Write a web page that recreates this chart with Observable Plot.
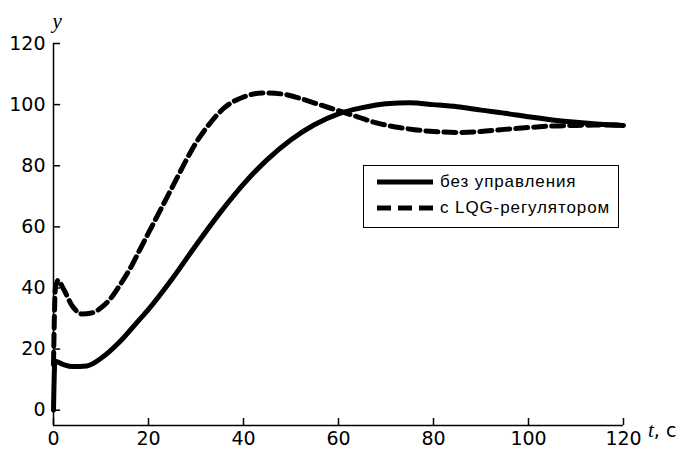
<!DOCTYPE html>
<html>
<head>
<meta charset="utf-8">
<script src="https://cdn.jsdelivr.net/npm/d3@7"></script>
<script src="https://cdn.jsdelivr.net/npm/@observablehq/plot@0.6"></script>
<style>
  html, body { margin: 0; padding: 0; background: #fff; }
  #wrap { position: relative; width: 684px; height: 454px; }
  #legend {
    position: absolute; left: 363px; top: 165px; width: 256px; height: 63px;
    border: 1px solid #000; box-sizing: border-box; background: #fff;
    font-family: "Liberation Sans", Arial, sans-serif; font-size: 17px; letter-spacing: 0.9px; color: #000;
  }
  #legend .row { position: absolute; left: 13px; display: flex; align-items: center; height: 20px; }
  #legend svg { margin-right: 7px; }
</style>
</head>
<body>
<div id="wrap"></div>
<script>
// --- data ---
const tSolid = [0, 0.3, 2, 4, 7, 10, 14, 18, 20, 25, 30, 35, 40, 45, 50, 55, 60, 65, 70, 75, 80, 85, 90, 95, 100, 105, 110, 115, 120];
const ySolid = [0, 16, 15, 14.3, 14.5, 17, 22.5, 29.5, 33, 43, 54, 64.5, 74, 82, 88.5, 93.5, 97, 99, 100.3, 100.6, 100, 99.3, 98.2, 97.2, 96, 95, 94.2, 93.6, 93.2];
const tDashed = [0, 0.4, 1, 2, 4, 6, 8, 10, 12, 14, 16, 18, 20, 22, 24, 26, 28, 30, 33, 36, 40, 44, 48, 52, 56, 60, 64, 68, 72, 76, 80, 85, 90, 95, 100, 105, 110, 115, 120];
const yDashed = [15, 40, 42.5, 40, 34, 31.5, 31.8, 33.5, 36.5, 41, 46, 52, 58, 64, 70, 76, 82, 87.5, 94, 99, 102.5, 103.8, 103.5, 102, 100, 98, 96, 94, 92.7, 91.8, 91.2, 90.9, 91.2, 91.9, 92.5, 93, 93.2, 93.3, 93.3];
const seriesNames = ["без управления", "с LQG-регулятором"];
const xTicks = [0, 20, 40, 60, 80, 100, 120];
const yTicks = [0, 20, 40, 60, 80, 100, 120];
const xLabel = "t";
const xUnit = ", с";
const yLabel = "y";

const solid = tSolid.map((t, i) => ({t, y: ySolid[i]}));
const dashed = tDashed.map((t, i) => ({t, y: yDashed[i]}));

const yMin = -5;
const plot = Plot.plot({
  width: 684,
  height: 454,
  marginLeft: 53,
  marginRight: 61,
  marginTop: 43,
  marginBottom: 29,
  x: {domain: [0, 120]},
  y: {domain: [yMin, 120]},
  style: {fontFamily: "DejaVu Sans, sans-serif", fontSize: "19px", color: "#000", background: "#fff"},
  marks: [
    Plot.ruleY([yMin], {x1: 0, x2: 120, stroke: "#000", strokeWidth: 1.5}),
    Plot.ruleX([0], {y1: yMin, y2: 120, stroke: "#000", strokeWidth: 1.5}),
    Plot.ruleX(xTicks, {x: d => d, y1: yMin, y2: yMin + 2.3, stroke: "#000", strokeWidth: 1.5}),
    Plot.ruleY(yTicks, {y: d => d, x1: 0, x2: 1.5, stroke: "#000", strokeWidth: 1.5}),
    Plot.axisX(xTicks, {tickSize: 0, tickPadding: 6, label: null, fontSize: 19}),
    Plot.axisY(yTicks, {tickSize: 0, tickPadding: 8, label: null, fontSize: 19}),
    Plot.line(solid, {x: "t", y: "y", stroke: "#000", strokeWidth: 5, curve: "monotone-x"}),
    Plot.line(dashed, {x: "t", y: "y", stroke: "#000", strokeWidth: 5, strokeDasharray: "12,6", curve: "monotone-x"}),
    Plot.text([yLabel], {frameAnchor: "top-left", dx: -1, dy: -30, fontStyle: "italic", fontSize: 21, fontFamily: "Liberation Serif, serif", text: d => d}),
  ]
});
const wrap = document.getElementById("wrap");
wrap.appendChild(plot);

// x axis label "t, с"
const svgNS = "http://www.w3.org/2000/svg";
const lbl = document.createElementNS(svgNS, "text");
lbl.setAttribute("x", 648);
lbl.setAttribute("y", 437);
lbl.setAttribute("text-anchor", "start");
lbl.setAttribute("font-size", "21");
lbl.setAttribute("font-family", "Liberation Serif, serif");
const tsp1 = document.createElementNS(svgNS, "tspan");
tsp1.setAttribute("font-style", "italic");
tsp1.textContent = xLabel;
const tsp2 = document.createElementNS(svgNS, "tspan");
tsp2.setAttribute("font-family", "DejaVu Sans, sans-serif");
tsp2.setAttribute("font-size", "19");
tsp2.textContent = xUnit;
lbl.appendChild(tsp1); lbl.appendChild(tsp2);
plot.appendChild(lbl);

// legend
const leg = document.createElement("div");
leg.id = "legend";
const dashes = ["none", "14,7"];
seriesNames.forEach((name, i) => {
  const row = document.createElement("div");
  row.className = "row";
  row.style.top = (i === 0 ? 6 : 32) + "px";
  row.innerHTML = `<svg width="56" height="20"><line x1="0" x2="56" y1="10" y2="10" stroke="#000" stroke-width="5" stroke-dasharray="${dashes[i]}"/></svg><span>${name}</span>`;
  leg.appendChild(row);
});
wrap.appendChild(leg);
</script>
</body>
</html>
